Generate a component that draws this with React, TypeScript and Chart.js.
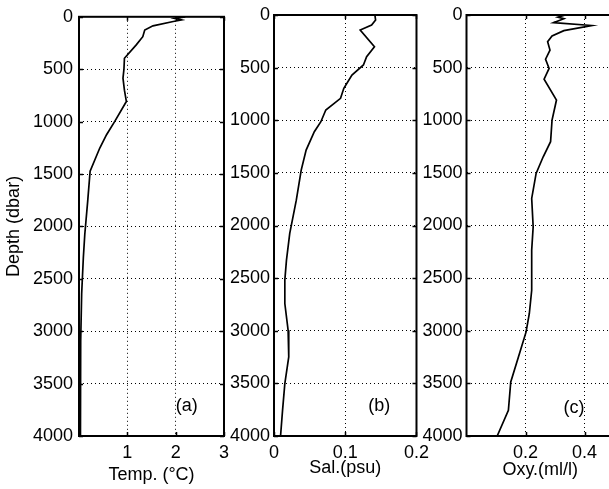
import React, { useEffect, useRef } from "react";
import { Chart, registerables } from "chart.js";

Chart.register(...registerables);

const FONT = "'Liberation Sans', Arial, Helvetica, sans-serif";

// Depth axis
const depthTicks = [0, 500, 1000, 1500, 2000, 2500, 3000, 3500, 4000];
const depthTickLabels = ["0", "500", "1000", "1500", "2000", "2500", "3000", "3500", "4000"];

// (a) Temperature
const tempDepth = [0, 15, 30, 45, 86, 127, 190, 270, 396, 500, 586, 700, 808, 998, 1125, 1252, 1474, 1759, 2075, 2297, 2645, 3090, 3500, 4000];
const tempValues = [2.2, 1.98, 2.12, 1.95, 1.53, 1.36, 1.32, 1.18, 0.94, 0.93, 0.91, 0.94, 0.98, 0.74, 0.57, 0.43, 0.23, 0.18, 0.12, 0.09, 0.055, 0.035, 0.03, 0.03];
const tempTicks = [1, 2, 3];
const tempTickLabels = ["1", "2", "3"];

// (b) Salinity
const salDepth = [0, 48, 95, 143, 301, 396, 475, 570, 697, 792, 903, 1014, 1109, 1283, 1474, 1759, 2075, 2329, 2519, 2741, 2995, 3249, 3502, 3756, 4000];
const salValues = [0.1416, 0.1426, 0.137, 0.121, 0.141, 0.13, 0.1255, 0.1094, 0.098, 0.0934, 0.0727, 0.0658, 0.0566, 0.0451, 0.0382, 0.0313, 0.0221, 0.0175, 0.0152, 0.0152, 0.0198, 0.0207, 0.0152, 0.012, 0.0092];
const salTicks = [0, 0.1, 0.2];
const salTickLabels = ["0", "0.1", "0.2"];

// (c) Oxygen
const oxyDepth = [0, 20, 35, 73, 100, 149, 200, 254, 333, 420, 507, 610, 808, 998, 1204, 1347, 1505, 1743, 2012, 2234, 2615, 2836, 3011, 3249, 3486, 3756, 4000];
const oxyValues = [0.335, 0.31, 0.33, 0.295, 0.424, 0.33, 0.29, 0.275, 0.283, 0.268, 0.28, 0.263, 0.305, 0.29, 0.285, 0.26, 0.236, 0.221, 0.226, 0.221, 0.221, 0.213, 0.202, 0.176, 0.15, 0.142, 0.104];
const oxyTicks = [0.2, 0.4];
const oxyTickLabels = ["0.2", "0.4"];

type Spec = {
  left: number;
  width: number;
  yWidth: number;
  padRight: number;
  xMin: number;
  xMax: number;
  xTicks: number[];
  xTickLabels: string[];
  xTitle: string;
  titlePad: number;
  yLabelPad: number;
  yTitle?: string;
  depth: number[];
  values: number[];
  tag: string;
  tagX: number;
  tagY: number;
};

const framePlugin = {
  id: "frame",
  afterDraw(chart: any, _args: any, opts: any) {
    const { ctx, chartArea: a, scales } = chart;
    const xs = scales.x;
    const ys = scales.y;
    ctx.save();
    ctx.strokeStyle = "#000";
    ctx.lineWidth = 1.5;
    const line = (x1: number, y1: number, x2: number, y2: number) => {
      ctx.beginPath();
      ctx.moveTo(x1, y1);
      ctx.lineTo(x2, y2);
      ctx.stroke();
    };
    for (const t of xs.ticks) {
      const px = Math.round(xs.getPixelForValue(t.value)) + 0.5;
      line(px, a.top, px, a.top + 4);
      line(px, a.bottom, px, a.bottom - 4);
    }
    for (const t of ys.ticks) {
      const py = Math.round(ys.getPixelForValue(t.value)) + 0.5;
      line(a.left, py, a.left + 4, py);
      line(a.right, py, a.right - 4, py);
    }
    ctx.lineWidth = 2;
    ctx.strokeRect(a.left, a.top, a.right - a.left, a.bottom - a.top);
    ctx.font = `18px ${FONT}`;
    ctx.fillStyle = "#000";
    ctx.textAlign = "center";
    ctx.textBaseline = "middle";
    ctx.fillText(opts.text, xs.getPixelForValue(opts.x), ys.getPixelForValue(opts.y));
    ctx.restore();
  },
};

function Panel({ spec }: { spec: Spec }) {
  const ref = useRef<HTMLCanvasElement | null>(null);
  useEffect(() => {
    if (!ref.current) return;
    const points = spec.depth.map((d, i) => ({ x: spec.values[i], y: d }));
    const chart = new Chart(ref.current, {
      type: "scatter",
      data: {
        datasets: [
          {
            data: points,
            showLine: true,
            borderColor: "#000",
            borderWidth: 1.7,
            pointRadius: 0,
            tension: 0,
          },
        ],
      },
      options: {
        responsive: false,
        animation: false,
        devicePixelRatio: 1,
        layout: { padding: { left: 0, top: 15, right: spec.padRight, bottom: 0 } },
        plugins: {
          legend: { display: false },
          tooltip: { enabled: false },
          frame: { text: spec.tag, x: spec.tagX, y: spec.tagY },
        } as any,
        scales: {
          x: {
            type: "linear",
            min: spec.xMin,
            max: spec.xMax,
            afterBuildTicks: (scale: any) => {
              scale.ticks = spec.xTicks.map((v) => ({ value: v }));
            },
            afterFit: (scale: any) => {
              scale.height = 53;
            },
            ticks: {
              color: "#000",
              font: { family: FONT, size: 18 },
              padding: 6,
              maxRotation: 0,
              autoSkip: false,
              callback: (_v: any, i: number) => spec.xTickLabels[i],
            },
            grid: { color: "#000", lineWidth: 1, drawTicks: false },
            border: { display: false, dash: [1, 3] },
            title: {
              display: true,
              text: spec.xTitle,
              color: "#000",
              font: { family: FONT, size: 18 },
              padding: { top: 0, bottom: spec.titlePad },
            },
          },
          y: {
            type: "linear",
            reverse: true,
            min: 0,
            max: 4000,
            afterBuildTicks: (scale: any) => {
              scale.ticks = depthTicks.map((v) => ({ value: v }));
            },
            afterFit: (scale: any) => {
              scale.width = spec.yWidth;
            },
            ticks: {
              color: "#000",
              font: { family: FONT, size: 18 },
              padding: spec.yLabelPad,
              autoSkip: false,
              callback: (_v: any, i: number) => depthTickLabels[i],
            },
            grid: { color: "#000", lineWidth: 1, drawTicks: false },
            border: { display: false, dash: [1, 3] },
            title: {
              display: !!spec.yTitle,
              text: spec.yTitle || "",
              color: "#000",
              font: { family: FONT, size: 18 },
              padding: { top: 3, bottom: 0 },
            },
          },
        },
      },
      plugins: [framePlugin],
    });
    return () => chart.destroy();
  }, [spec]);
  return (
    <canvas
      ref={ref}
      width={spec.width}
      height={489}
      style={{ position: "absolute", left: spec.left, top: 0, width: spec.width, height: 489 }}
    />
  );
}

const specA: Spec = {
  left: 0, width: 235, yWidth: 79, padRight: 10,
  xMin: 0, xMax: 3, xTicks: tempTicks, xTickLabels: tempTickLabels,
  xTitle: "Temp. (°C)", titlePad: 3, yLabelPad: 6, yTitle: "Depth (dbar)",
  depth: tempDepth, values: tempValues, tag: "(a)", tagX: 2.23, tagY: 3717,
};
const specB: Spec = {
  left: 190, width: 245, yWidth: 84, padRight: 16,
  xMin: 0, xMax: 0.2, xTicks: salTicks, xTickLabels: salTickLabels,
  xTitle: "Sal.(psu)", titlePad: 10, yLabelPad: 4,
  depth: salDepth, values: salValues, tag: "(b)", tagX: 0.1476, tagY: 3717,
};
const specC: Spec = {
  left: 380, width: 250, yWidth: 86.5, padRight: 16,
  xMin: 0, xMax: 0.5, xTicks: oxyTicks, xTickLabels: oxyTickLabels,
  xTitle: "Oxy.(ml/l)", titlePad: 8, yLabelPad: 4,
  depth: oxyDepth, values: oxyValues, tag: "(c)", tagX: 0.364, tagY: 3730,
};

export default function App() {
  return (
    <div
      style={{
        position: "fixed",
        left: 0,
        top: 0,
        width: 609,
        height: 489,
        overflow: "hidden",
        background: "#fff",
      }}
    >
      <Panel spec={specA} />
      <Panel spec={specB} />
      <Panel spec={specC} />
    </div>
  );
}
